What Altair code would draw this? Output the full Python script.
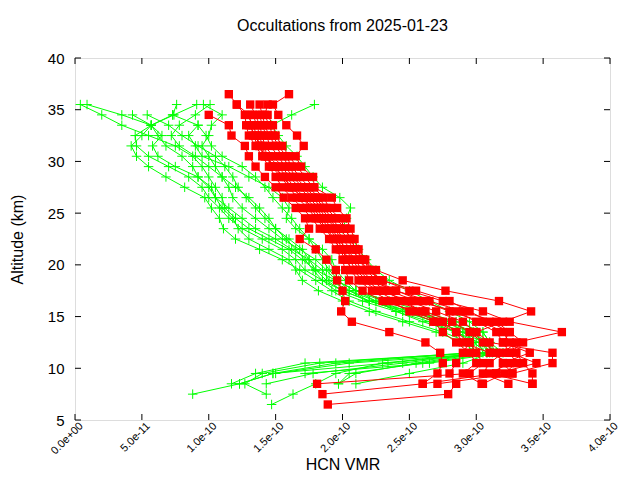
import altair as alt
import pandas as pd

UNIT = 1e-10  # values below are in units of 1e-10

ALT = [36.5, 35.5, 34.5, 33.5, 32.5, 31.5, 30.5, 29.5, 28.5, 27.5, 26.5, 25.5,
       24.5, 23.5, 22.5, 21.5, 20.5, 19.5, 18.5, 17.5, 16.5, 15.5, 14.5, 13.5,
       12.5, 11.5, 10.5, 9.5, 8.5, 7.5, 6.5]

# red profiles: (top altitude, values from top downward)
RED = {
    "r1": (36.5, [1.15,1.21,1.27,1.28,1.30,1.35,1.40,1.45,1.50,1.55,1.62,1.70,1.77,1.83,1.90,1.95,2.00,2.02,2.05,2.15,2.30,2.55,2.70,2.85,2.95,3.00,3.05,2.95,1.81]),
    "r2": (36.5, [1.60,1.48,1.52,1.58,1.66,1.71,1.65,1.69,1.78,1.79,1.92,1.96,2.03,2.06,2.09,2.12,2.17,2.21,2.27,2.35,2.55,2.85,3.00,3.15,3.20,3.25,3.30,3.21,3.05]),
    "r3": (35.5, [1.31,1.35,1.38,1.40,1.42,1.48,1.55,1.60,1.68,1.75,1.82,1.88,1.95,1.98,2.02,2.08,2.12,2.20,2.40,2.60,2.80,3.05,3.20,3.25,3.30,3.35,3.42,3.42]),
    "r4": (35.5, [1.38,1.40,1.42,1.45,1.50,1.55,1.60,1.65,1.72,1.80,1.86,1.92,1.98,2.04,2.08,2.12,2.18,2.30,2.50,2.75,3.05,3.25,3.64,3.30,3.20,3.10,3.05,3.24]),
    "r5": (35.5, [1.21,1.30,1.32,1.33,1.37,1.42,1.50,1.55,1.62,1.70,1.78,1.84,1.90,1.96,2.00,2.05,2.10,2.18,2.28,2.50,2.70,2.90,3.00,3.10,3.57,3.57,3.27,2.71]),
    "r6": (35.5, [1.44,1.42,1.45,1.48,1.52,1.58,1.62,1.68,1.75,1.82,1.88,1.95,2.02,2.06,2.10,2.15,2.25,2.45,2.77,3.17,3.41,3.20,3.00,2.95,2.90,2.85,2.80,2.85,2.79,1.89]),
    "r7": (34.5, [1.00,1.15,1.17,1.27,1.30,1.35,1.42,1.50,1.56,1.65,1.72,1.75,1.68,1.80,1.88,1.95,1.96,2.00,2.02,1.99,2.07,2.35,2.62,2.73,2.75,2.71,2.60,1.85]),
    "r8": (34.5, [1.33,1.36,1.38,1.40,1.45,1.52,1.58,1.64,1.72,1.80,1.86,1.92,1.97,2.03,2.10,2.14,2.22,2.32,2.45,2.60,2.75,2.85,2.90,3.10,3.25,3.10,3.42]),
    "r9": (34.5, [1.38,1.40,1.43,1.46,1.52,1.57,1.63,1.70,1.78,1.84,1.90,1.96,2.00,2.06,2.14,2.18,2.25,2.40,2.65,2.90,3.15,3.25,3.35,3.25,3.45,3.15]),
    "r10": (34.5, [1.44,1.48,1.50,1.55,1.60,1.66,1.72,1.78,1.86,1.90,1.98,2.02,2.06,2.10,2.16,2.20,2.30,2.55,2.80,2.95,3.10,3.25,3.20,3.40,3.20,3.27]),
    "r11": (33.5, [1.30,1.35,1.38,1.44,1.47,1.54,1.60,1.66,1.74,1.80,1.87,1.93,1.99,2.04,2.06,2.12,2.22,2.35,2.50,2.68,2.75,2.85,2.95,3.00,2.90,3.04]),
    "r12": (34.5, [1.29,1.33,1.36,1.38,1.42,1.48,1.56,1.62,1.70,1.76,1.82,1.88,1.94,1.98,2.02,2.08,2.15,2.26,2.40,2.62,2.82,2.95,3.05,3.15,3.20,3.15,2.60]),
}

GREEN = {
    "g1": (35.5, [0.04,0.20,0.35,0.55,0.75,0.88,0.95,1.00,1.05,1.10,1.12,1.20,1.30,1.45,1.60,1.70,1.80,1.95,2.10,2.30,2.55,2.80,2.95,3.05,3.10,2.34,1.48,1.23,0.88]),
    "g2": (35.5, [0.09,0.35,0.57,0.50,0.42,0.46,0.55,0.68,0.82,0.97,1.02,1.08,1.11,1.20,1.38,1.55,1.68,1.80,1.92,2.05,2.25,2.50,2.75,2.95,3.00,1.72,1.35,1.17]),
    "g3": (35.5, [0.76,0.73,0.57,0.45,0.46,0.55,0.70,0.85,0.95,1.00,1.08,1.15,1.25,1.40,1.55,1.65,1.72,1.85,2.00,2.20,2.45,2.70,2.90,3.00,2.95,1.83,1.40,1.27,1.43]),
    "g4": (35.5, [0.91,0.74,0.57,0.62,0.68,0.80,0.88,0.92,1.00,1.05,1.15,1.25,1.35,1.50,1.62,1.75,1.85,1.90,2.05,2.25,2.40,2.60,2.85,3.02,3.05,2.30,1.95,1.80,1.63,1.47]),
    "g5": (35.5, [0.96,1.10,1.02,1.00,0.95,1.00,1.05,1.10,1.15,1.18,1.25,1.35,1.45,1.55,1.68,1.80,1.88,1.95,2.10,2.35,2.60,2.85,3.05,3.10,3.15,2.60,2.05,1.97]),
    "g6": (35.5, [1.79,1.62,1.47,1.52,1.58,1.66,1.72,1.78,1.85,1.98,2.06,2.03,2.00,2.08,2.12,2.18,2.25,2.35,2.50,2.65,2.80,2.95,3.05,3.10,3.12,2.90,2.50,2.10]),
    "g7": (34.5, [0.54,0.70,0.80,0.92,1.05,1.12,1.18,1.22,1.28,1.35,1.42,1.50,1.58,1.65,1.72,1.78,1.85,1.95,2.15,2.40,2.65,2.85,2.98,3.08,2.45,1.78,1.43]),
    "g8": (34.5, [0.43,0.57,0.65,0.58,0.62,0.75,0.92,1.02,1.05,1.10,1.18,1.22,1.30,1.45,1.60,1.65,1.70,1.82,2.00,2.20,2.45,2.70,2.90,3.00,1.95,1.48,1.23]),
    "g9": (34.5, [0.73,0.92,0.98,1.02,1.10,1.25,1.35,1.42,1.48,1.55,1.62,1.68,1.75,1.80,1.85,1.90,1.97,2.05,2.20,2.45,2.70,2.90,3.05,3.15,2.05,1.50]),
    "g10": (35.5, [1.01,0.90,0.78,0.72,0.78,0.90,1.00,1.10,1.20,1.30,1.38,1.45,1.50,1.60,1.70,1.75,1.80,1.88,2.00,2.20,2.50,2.80,2.98,3.05,3.08,2.55,2.10,1.97]),
    "g11": (33.5, [0.92,0.85,0.90,0.95,1.15,1.30,1.45,1.55,1.60,1.58,1.65,1.75,1.85,1.92,1.95,2.02,2.10,2.25,2.50,2.75,2.95,3.10,3.20,2.65,1.72]),
}

X_TICKS = [0, 0.5e-10, 1.0e-10, 1.5e-10, 2.0e-10, 2.5e-10, 3.0e-10, 3.5e-10, 4.0e-10]
Y_TICKS = [5, 10, 15, 20, 25, 30, 35, 40]

W, H = 535, 362
FONT = "Liberation Sans"


def table(profiles):
    rows = []
    for name, (top, vals) in profiles.items():
        i0 = ALT.index(top)
        for k, v in enumerate(vals):
            rows.append({"profile": name, "alt": ALT[i0 + k], "vmr": v * UNIT})
    return pd.DataFrame(rows)


red_df = table(RED)
green_df = table(GREEN)

xs = alt.Scale(domain=[0, 4e-10], nice=False, zero=False)
ys = alt.Scale(domain=[5, 40], nice=False, zero=False)

x_axis = alt.Axis(
    values=X_TICKS, title="HCN VMR", titleFont=FONT, titleFontSize=16,
    titleFontWeight="normal", titleColor="black", titlePadding=1,
    labelFont=FONT, labelFontSize=11, labelColor="black", labelAngle=-45,
    labelAlign="right", labelBaseline="middle", labelPadding=4, labelOffset=6,
    labelExpr="datum.value == 0 ? '0.0e+00' : format(datum.value, '.1e')",
    ticks=False, domain=False, grid=False, labelOverlap=False,
)
y_axis = alt.Axis(
    values=Y_TICKS, title="Altitude (km)", titleFont=FONT, titleFontSize=16,
    titleFontWeight="normal", titleColor="black", titlePadding=22,
    labelFont=FONT, labelFontSize=15, labelColor="black", labelPadding=11,
    ticks=False, domain=False, grid=False,
)

X = alt.X("vmr:Q", scale=xs, axis=x_axis)
Y = alt.Y("alt:Q", scale=ys, axis=y_axis)

CROSS = "M-1,0L1,0M0,-1L0,1"

g_line = alt.Chart(green_df).mark_line(color="#00ff00", strokeWidth=1).encode(
    x=X, y=Y, detail="profile:N", order=alt.Order("alt:Q"))
g_pts = alt.Chart(green_df).mark_point(
    shape=CROSS, size=90, filled=False, stroke="#00ff00", strokeWidth=1, opacity=1
).encode(x=X, y=Y)
r_line = alt.Chart(red_df).mark_line(color="#ff0000", strokeWidth=1).encode(
    x=X, y=Y, detail="profile:N", order=alt.Order("alt:Q"))
r_pts = alt.Chart(red_df).mark_point(
    shape="square", size=70, filled=True, color="#ff0000", strokeWidth=0, opacity=1
).encode(x=X, y=Y)

xt = pd.DataFrame({"vmr": X_TICKS})
yt = pd.DataFrame({"alt": Y_TICKS})
tick_b = alt.Chart(xt).mark_rule(color="black").encode(
    x=X, y=alt.value(H), y2=alt.value(H - 6))
tick_t = alt.Chart(xt).mark_rule(color="black").encode(
    x=X, y=alt.value(0), y2=alt.value(6))
tick_l = alt.Chart(yt).mark_rule(color="black").encode(
    y=Y, x=alt.value(0), x2=alt.value(6))
tick_r = alt.Chart(yt).mark_rule(color="black").encode(
    y=Y, x=alt.value(W), x2=alt.value(W - 6))

chart = alt.layer(g_line, g_pts, r_line, r_pts, tick_b, tick_t, tick_l, tick_r).properties(
    width=W, height=H,
    title=alt.TitleParams("Occultations from 2025-01-23", font=FONT, fontSize=16,
                          fontWeight="normal", color="black", offset=17),
    padding={"left": 67, "top": 50, "right": 22, "bottom": 59},
    autosize=alt.AutoSizeParams(type="none"),
).configure_view(stroke="black", strokeWidth=1).configure(background="white")

chart.save("out.html", embed_options={"renderer": "svg", "actions": False})
